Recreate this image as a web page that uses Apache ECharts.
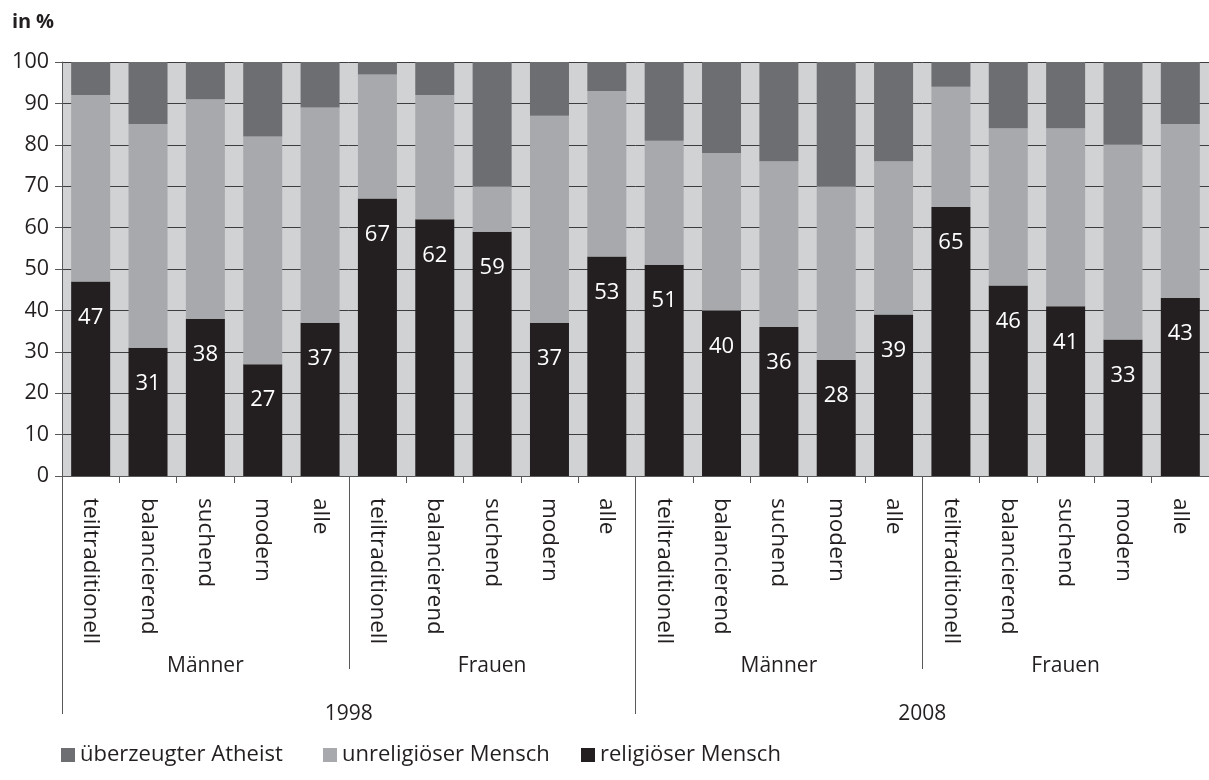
<!DOCTYPE html>
<html>
<head>
<meta charset="utf-8">
<script src="https://cdn.jsdelivr.net/npm/echarts@6/dist/echarts.min.js"></script>
<style>
  html, body { margin: 0; padding: 0; background: #ffffff; }
  #chart { width: 1209px; height: 780px; }
</style>
</head>
<body>
<div id="chart"></div>
<script>
// Category labels (bottom row), grouping rows and legend names
const categories = [
  'teiltraditionell', 'balancierend', 'suchend', 'modern', 'alle',
  'teiltraditionell', 'balancierend', 'suchend', 'modern', 'alle',
  'teiltraditionell', 'balancierend', 'suchend', 'modern', 'alle',
  'teiltraditionell', 'balancierend', 'suchend', 'modern', 'alle'
];
const genderGroups = ['Männer', 'Frauen', 'Männer', 'Frauen'];
const years = ['1998', '2008'];
const seriesNames = ['überzeugter Atheist', 'unreligiöser Mensch', 'religiöser Mensch'];
const yTicks = { min: 0, max: 100, interval: 10 };

// Shares in percent per group
const religious   = [47, 31, 38, 27, 37, 67, 62, 59, 37, 53, 51, 40, 36, 28, 39, 65, 46, 41, 33, 43];
const unreligious = [45, 54, 53, 55, 52, 30, 30, 11, 50, 40, 30, 38, 40, 42, 37, 29, 38, 43, 47, 42];
const atheist     = [ 8, 15,  9, 18, 11,  3,  8, 30, 13,  7, 19, 22, 24, 30, 24,  6, 16, 16, 20, 15];

const FONT = '"Open Sans", "Noto Sans", sans-serif';
const INK = '#231f20';
const AXIS = '#58595b';
const COLORS = { atheist: '#6d6e71', unreligious: '#a7a9ac', religious: '#231f20' };

const chart = echarts.init(document.getElementById('chart'), null, { renderer: 'canvas' });

function groupAxis(data, tickLen, labelMargin) {
  return {
    type: 'category', data: data, position: 'bottom', gridIndex: 0,
    axisLine: { show: false },
    axisTick: { show: true, length: tickLen, interval: 0, lineStyle: { color: AXIS, width: 1 } },
    axisLabel: { interval: 0, margin: labelMargin, fontSize: 21, color: INK, fontFamily: FONT },
    splitLine: { show: false }
  };
}

// One legend block per entry, laid out in fixed-width columns
const legendLefts = [56, 318, 576];
const legends = seriesNames.map((name, i) => ({
  data: [name], left: legendLefts[i], top: 739, icon: 'rect',
  itemWidth: 14, itemHeight: 14,
  textStyle: { fontSize: 22, color: INK, fontFamily: FONT }
}));

chart.setOption({
  animation: false,
  textStyle: { fontFamily: FONT },
  title: {
    text: '{b|in} {r|%}', left: 7, top: 7,
    textStyle: { rich: {
      b: { fontSize: 20, fontWeight: 'bold', color: INK, fontFamily: FONT },
      r: { fontSize: 20, color: INK, fontFamily: FONT }
    } }
  },
  grid: { left: 62, top: 62, width: 1150, height: 414, show: true,
    backgroundColor: '#d1d2d4', borderWidth: 0, containLabel: false },
  legend: legends,
  xAxis: [
    {
      type: 'category', data: categories, position: 'bottom', gridIndex: 0,
      axisLine: { show: true, lineStyle: { color: AXIS, width: 1 } },
      axisTick: { show: true, length: 7, interval: 0, lineStyle: { color: AXIS } },
      axisLabel: { interval: 0, rotate: -90, margin: 22, fontSize: 22.5, color: INK, fontFamily: FONT },
      splitLine: { show: false }
    },
    groupAxis(genderGroups, 193, 180),
    groupAxis(years, 238, 228)
  ],
  yAxis: {
    type: 'value', min: yTicks.min, max: yTicks.max, interval: yTicks.interval,
    axisLine: { show: true, lineStyle: { color: AXIS, width: 1 } },
    axisTick: { show: true, length: 7, lineStyle: { color: AXIS } },
    axisLabel: { margin: 13, fontSize: 21.5, color: INK, fontFamily: FONT },
    splitLine: { show: true, lineStyle: { color: '#3d3d3f', width: 1 } }
  },
  series: [
    {
      name: seriesNames[2], type: 'bar', stack: 'all', data: religious, barWidth: 39,
      itemStyle: { color: COLORS.religious },
      label: { show: true, position: 'insideTop', distance: 25, color: '#ffffff',
        fontSize: 22, fontFamily: FONT }
    },
    {
      name: seriesNames[1], type: 'bar', stack: 'all', data: unreligious, barWidth: 39,
      itemStyle: { color: COLORS.unreligious }
    },
    {
      name: seriesNames[0], type: 'bar', stack: 'all', data: atheist, barWidth: 39,
      itemStyle: { color: COLORS.atheist }
    }
  ]
});
</script>
</body>
</html>
